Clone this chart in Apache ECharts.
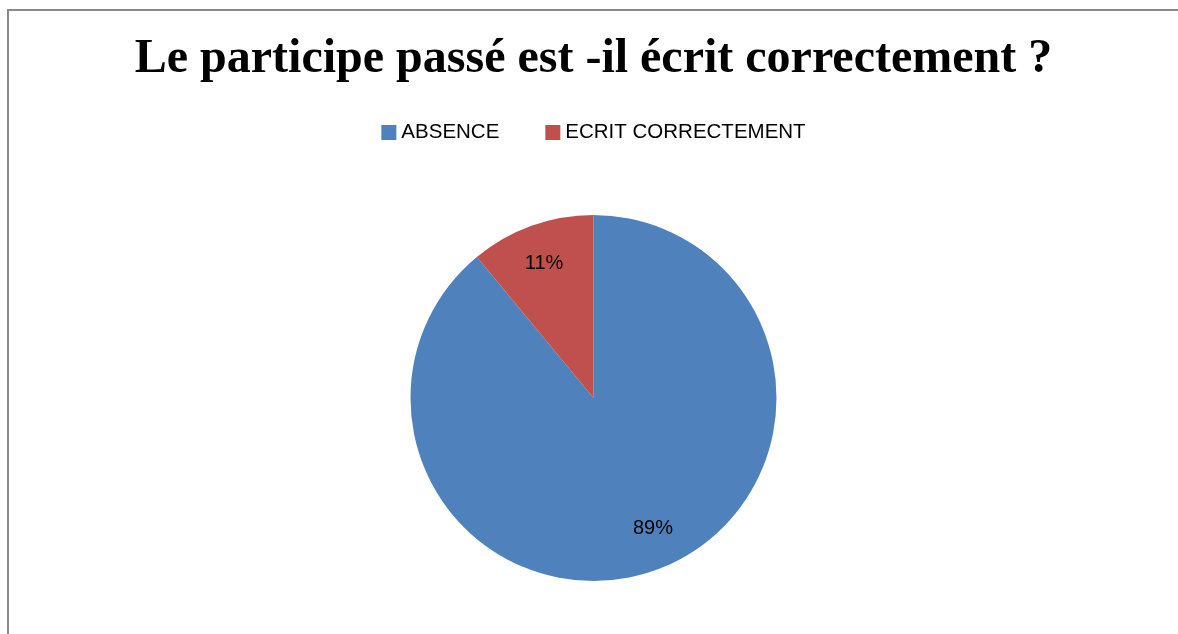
<!DOCTYPE html>
<html>
<head>
<meta charset="utf-8">
<script src="https://cdn.jsdelivr.net/npm/echarts@6/dist/echarts.min.js"></script>
<style>
  html, body { margin: 0; padding: 0; background: #fff; }
  #frame {
    position: absolute; left: 7px; top: 9px;
    width: 1171px; height: 625px;
    border-top: 2px solid #898989; border-left: 2px solid #898989;
    box-sizing: border-box;
  }
  #chart { width: 100%; height: 100%; }
</style>
</head>
<body>
<div id="frame"><div id="chart"></div></div>
<script>
const titleText = "Le participe passé est -il écrit correctement ?";
const categories = ["ABSENCE", "ECRIT CORRECTEMENT"];
const values = [89, 11];
const colors = ["#4F81BD", "#C0504D"];

const myChart = echarts.init(document.getElementById("chart"));

const pieData = categories.map(function (name, i) {
  return { name: name, value: values[i], itemStyle: { color: colors[i] } };
});

// Excel nudges the labels a little off the slice middle
const labelData = categories.map(function (name, i) {
  const item = { name: name, value: values[i] };
  item.label = { offset: i === 0 ? [10, -7] : [0, 3] };
  return item;
});

const option = {
  animation: false,
  title: {
    text: titleText,
    left: "center",
    top: 20,
    textStyle: {
      fontFamily: "Liberation Serif",
      fontWeight: "bold",
      fontSize: 48,
      color: "#000",
    },
  },
  legend: {
    top: 106,
    left: "center",
    itemWidth: 15,
    itemHeight: 15,
    itemGap: 46,
    icon: "rect",
    data: categories,
    textStyle: { fontFamily: "Liberation Sans", fontSize: 20.5, color: "#000" },
  },
  series: [
    {
      // the visible pie
      type: "pie",
      center: ["50%", 387],
      radius: [0, 183],
      startAngle: 90,
      clockwise: true,
      label: { show: false },
      labelLine: { show: false },
      emphasis: { disabled: true },
      data: pieData,
    },
    {
      // transparent ring only used to place the percent labels
      type: "pie",
      center: ["50%", 387],
      radius: [103, 183],
      startAngle: 90,
      clockwise: true,
      silent: true,
      itemStyle: { color: "rgba(0,0,0,0)" },
      label: {
        show: true,
        position: "inside",
        formatter: "{c}%",
        fontFamily: "Liberation Sans",
        fontSize: 20,
        color: "#000",
      },
      labelLine: { show: false },
      emphasis: { disabled: true },
      data: labelData,
    },
  ],
};

myChart.setOption(option);
</script>
</body>
</html>
